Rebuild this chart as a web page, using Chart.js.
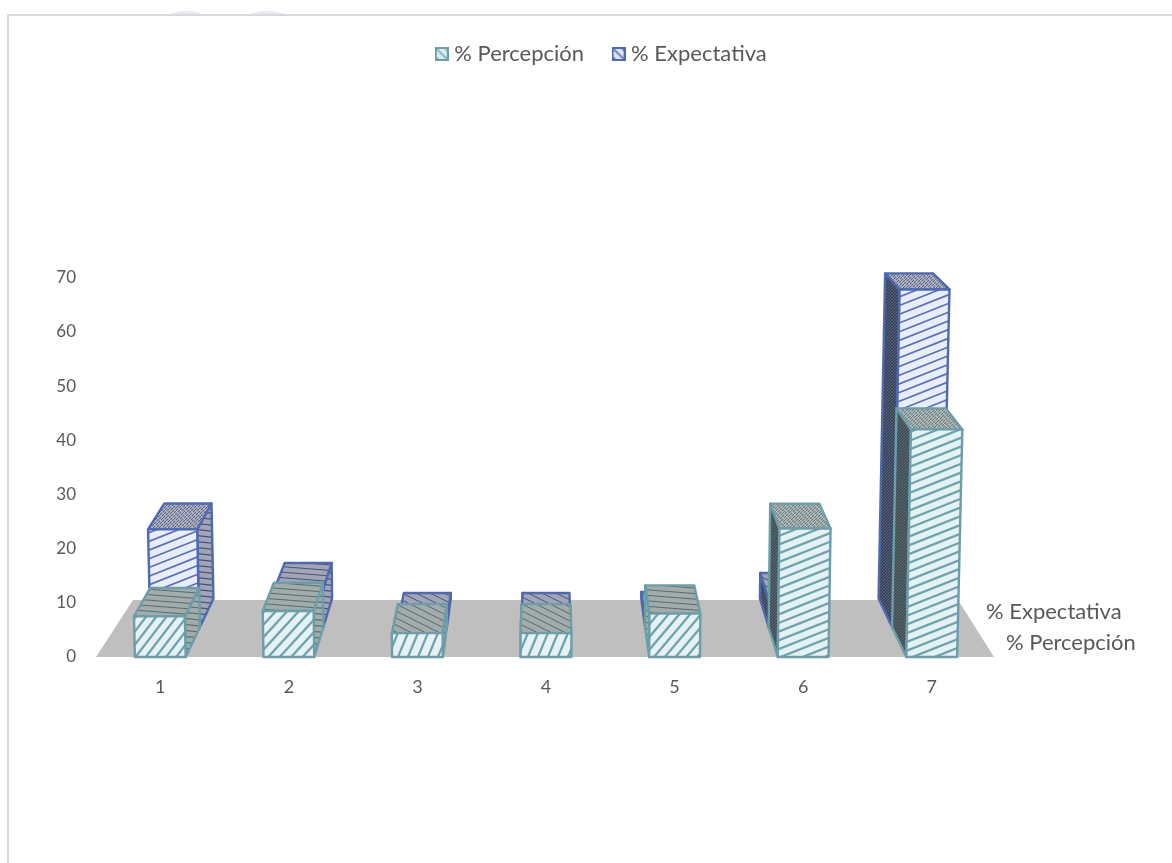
<!DOCTYPE html>
<html><head><meta charset="utf-8">
<style>html,body{margin:0;padding:0;background:#fff}#wrap{position:relative;width:1172px;height:863px;overflow:hidden}
canvas{display:block;filter:blur(0.45px)}</style>
<script src="https://cdn.jsdelivr.net/npm/chart.js@4"></script></head>
<body><div id="wrap"><canvas id="c" width="1172" height="863"></canvas></div>
<script>
const categories = ['1','2','3','4','5','6','7'];
const percepcion = [7.5,8.5,4.4,4.4,8,23.7,42];
const expectativa = [19,7.1,1.1,1.1,1.3,5.1,65];
const yTicks = [0,10,20,30,40,50,60,70];
const depthLabels = ['% Expectativa','% Percepción'];

const FONT = 'Lato, "Open Sans", sans-serif';
const TEXT = '#595959';
const STY = {
  p:{edge:'#6c9da8',pale:'#e5f1f4',stripe:'#6ea3ae',stripeW:2.3,grey:'#a3abab',line:'#4f6f72',dark:'#3f4f55'},
  e:{edge:'#4f69b0',pale:'#e9ecf9',stripe:'#5a72b8',stripeW:1.7,grey:'#a2a5b5',line:'#44527f',dark:'#36425f'}
};
function swatch(bg,fg,edge){
  const c=document.createElement('canvas');c.width=14;c.height=14;const x=c.getContext('2d');
  x.fillStyle=bg;x.fillRect(0,0,14,14);x.strokeStyle=fg;x.lineWidth=2;
  x.beginPath();x.moveTo(0,0);x.lineTo(14,14);x.moveTo(-4,5);x.lineTo(5,14);x.moveTo(5,-4);x.lineTo(14,5);x.stroke();
  x.strokeStyle=edge;x.lineWidth=2;x.strokeRect(1,1,12,12);
  return c;
}
const swatches=[swatch('#dcebef','#8fb9c2','#6c9da8'),swatch('#dfe4f6','#6f86c4','#4f69b0')];
function poly(ctx,pts){ctx.beginPath();pts.forEach((p,i)=>i?ctx.lineTo(p[0],p[1]):ctx.moveTo(p[0],p[1]));ctx.closePath();}
function hatch(ctx,pts,px,py,color,lw,sign){
  ctx.save();poly(ctx,pts);ctx.clip();
  const xs=pts.map(p=>p[0]),ys=pts.map(p=>p[1]);
  const x0=Math.min(...xs),x1=Math.max(...xs),y0=Math.min(...ys),y1=Math.max(...ys);
  ctx.strokeStyle=color;ctx.lineWidth=lw;ctx.beginPath();
  const s=sign||1;
  const cs=[x0/px+s*y0/py,x0/px+s*y1/py,x1/px+s*y0/py,x1/px+s*y1/py];
  const nMin=Math.floor(Math.min(...cs)),nMax=Math.ceil(Math.max(...cs));
  for(let n=nMin;n<=nMax;n++){
    ctx.moveTo(x0-5,(n-(x0-5)/px)*py*s);ctx.lineTo(x1+5,(n-(x1+5)/px)*py*s);
  }
  ctx.stroke();ctx.restore();
}
const threeD = {
  id:'threeD',
  afterLayout(chart){ if(chart.legend){chart.legend.left=0;chart.legend.right=1207;} },
  beforeDraw(chart){
    const c=chart.ctx;c.save();
    c.save();c.beginPath();c.rect(60,0,340,14);c.clip();c.fillStyle='#ebe8f9';
    [[186,15,16,4],[267,15,17,4]].forEach(e=>{c.beginPath();c.ellipse(e[0],e[1],e[2],e[3],0,0,7);c.fill();});
    c.restore();
    c.strokeStyle='#d9d9d9';c.lineWidth=2;c.beginPath();
    c.moveTo(8,863);c.lineTo(8,15);c.lineTo(1172,15);c.stroke();c.restore();
  },
  beforeDatasetDraw(chart,args){
    const ctx=chart.ctx,xS=chart.scales.x,yS=chart.scales.y;
    const y0=yS.getPixelForValue(0),vx=(xS.left+xS.right)/2,vy=-103,k=0.0395,slant=5.6e-5;
    const P=(x,h,d)=>{const xf=x+(x-vx)*slant*h,yf=y0-h;return [xf+(vx-xf)*d*k,yf+(vy-yf)*d*k];};
    const rear=args.index===1;
    if(rear){
      ctx.save();ctx.fillStyle='#bfbfbf';
      const fy=P(vx,0,1.9)[1];
      poly(ctx,[[xS.left,y0],[xS.right-2,y0],[xS.right-38,fy],[xS.left+37,fy]]);ctx.fill();ctx.restore();
    }
    const s=rear?STY.e:STY.p,d0=rear?0.95:0,d1=rear?1.95:1;
    ctx.save();ctx.lineJoin='round';
    args.meta.data.forEach(el=>{
      const l=el.x-el.width/2,r=el.x+el.width/2,h=el.base-el.y;
      const a=[P(l,0,d0),P(r,0,d0),P(r,h,d0),P(l,h,d0)];
      const b=[P(l,0,d1),P(r,0,d1),P(r,h,d1),P(l,h,d1)];
      const face=(pts,fill)=>{poly(ctx,pts);ctx.fillStyle=fill;ctx.fill();};
      const stroke=(pts)=>{poly(ctx,pts);ctx.strokeStyle=s.edge;ctx.lineWidth=2.4;ctx.stroke();};
      const side = el.x<vx ? [a[1],b[1],b[2],a[2]] : [a[0],b[0],b[3],a[3]];
      if(h>=110||(rear&&el.x>vx&&h>10)){face(side,s.dark);hatch(ctx,side,3,3,'#6b7a80',0.7);}
      else{face(side,s.grey);hatch(ctx,side,60,6,s.line,1.2,-1);}
      stroke(side);
      const top=[a[3],a[2],b[2],b[3]];
      face(top,s.grey);
      if(h>=80){hatch(ctx,top,3,3,s.line,0.8);hatch(ctx,top,5,5,'#d0d4d6',0.7,-1);}
      else if(h>=30){hatch(ctx,top,70,5.5,s.line,1,-1);}
      else{hatch(ctx,top,14,7,s.line,1,-1);}
      stroke(top);
      face(a,s.pale);
      const px=10+12*Math.max(0,Math.min(1,(h-40)/50));
      const py=h<41?13+(41-h)*0.65:Math.max(8.7,13-(h-41)*0.1);
      hatch(ctx,a,px,py,s.stripe,s.stripeW);
      stroke(a);
    });
    ctx.restore();
    return false;
  },
  afterDatasetsDraw(chart){
    const ctx=chart.ctx,xS=chart.scales.x,yS=chart.scales.y,y0=yS.getPixelForValue(0);
    ctx.save();ctx.fillStyle=TEXT;ctx.font='22px '+FONT;ctx.textBaseline='middle';ctx.textAlign='left';
    ctx.fillText(depthLabels[0],xS.right-10,y0-45);
    ctx.fillText(depthLabels[1],xS.right+10,y0-14);
    ctx.restore();
  }
};
new Chart(document.getElementById('c'),{
  type:'bar',
  plugins:[threeD],
  data:{labels:categories,datasets:[
    {label:'% Percepción',data:percepcion,grouped:false,barPercentage:0.395,categoryPercentage:1,backgroundColor:'#cfe3e8',borderColor:'#6c9da8',borderWidth:2,order:0},
    {label:'% Expectativa',data:expectativa,grouped:false,barPercentage:0.395,categoryPercentage:1,backgroundColor:'#d5dbf2',borderColor:'#4f69b0',borderWidth:2,order:1}
  ]},
  options:{
    responsive:false,animation:false,
    layout:{padding:{left:40,right:176,top:10,bottom:0}},
    scales:{
      x:{grid:{display:false},border:{display:false},offset:true,
         ticks:{color:TEXT,font:{family:FONT,size:18},padding:11,maxRotation:0},
         afterFit(s){s.height=206;}},
      y:{min:0,max:107.4,grid:{display:false,drawTicks:false},border:{display:false},
         afterBuildTicks(s){s.ticks=yTicks.map(v=>({value:v}));},
         ticks:{color:TEXT,font:{family:FONT,size:17},padding:20,autoSkip:false},
         afterFit(s){s.width=56;}}
    },
    plugins:{
      tooltip:{enabled:false},
      legend:{display:true,position:'top',
        labels:{color:TEXT,font:{family:FONT,size:22},usePointStyle:true,pointStyleWidth:3,boxHeight:14,padding:33,
          generateLabels(chart){
            return Chart.defaults.plugins.legend.labels.generateLabels(chart).map((it,i)=>Object.assign(it,{pointStyle:swatches[i]}));
          }}}
    }
  }
});
</script></body></html>
